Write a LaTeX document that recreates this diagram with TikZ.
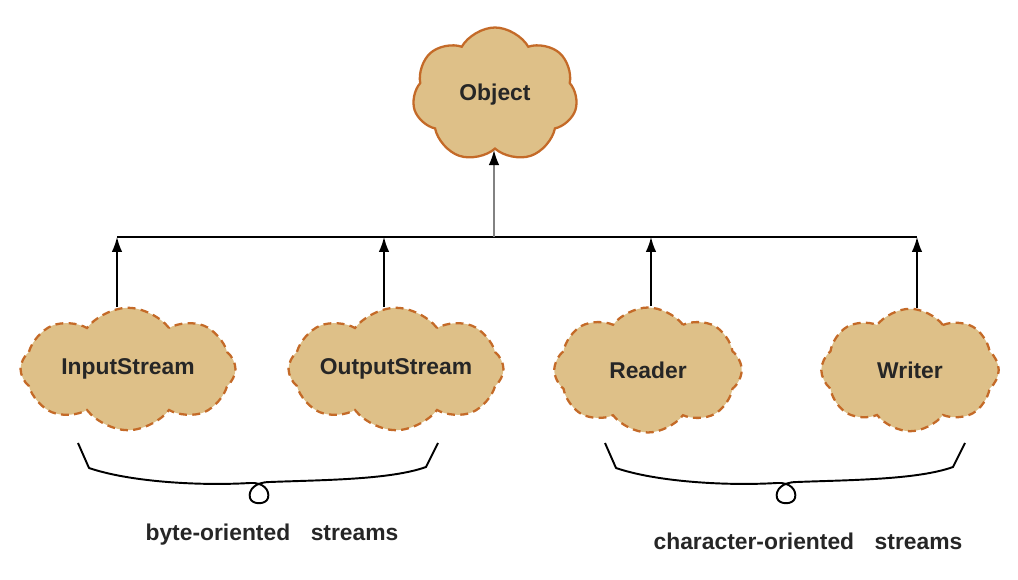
\documentclass[tikz,border=0pt]{standalone}
\usepackage{fontspec}
\setmainfont{Liberation Sans}
\usetikzlibrary{shapes.symbols,arrows.meta}
\definecolor{cloudfill}{RGB}{222,192,136}
\definecolor{cloudline}{RGB}{196,106,40}
\definecolor{arrgray}{RGB}{130,130,130}
\tikzset{
  x=0.02cm,y=-0.02cm,
  txt/.style={font=\fontsize{13}{15}\selectfont\bfseries, text=black!85},
  cl/.style={cloud, cloud ignores aspect, fill=cloudfill, draw=cloudline, line width=1.3pt, inner sep=0pt, txt},
  clsolid/.style={cl, cloud puffs=7, cloud puff arc=120},
  cldash/.style={cl, cloud puffs=8, cloud puff arc=105, dash pattern=on 4.5pt off 3pt},
  bus/.style={line width=1.1pt, black},
  arr/.style={line width=0.9pt, -{Latex[length=8.5pt,width=6pt]}},
  brace/.style={line width=1.1pt, black, line join=round},
}
\begin{document}
\begin{tikzpicture}
\useasboundingbox (0,0) rectangle (1018,580);
% clouds
\node[clsolid, minimum width=3.3cm, minimum height=2.7cm] (obj) at (495,95) {Object};
\node[cldash, minimum width=4.3cm, minimum height=2.45cm] (is) at (128,369) {InputStream};
\node[cldash, minimum width=4.3cm, minimum height=2.45cm] (os) at (396,369) {OutputStream};
\node[cldash, minimum width=3.75cm, minimum height=2.5cm] (rd) at (648,370) {Reader};
\node[cldash, minimum width=3.55cm, minimum height=2.45cm] (wr) at (910,370) {Writer};
% bus
\coordinate (b1) at (117,237);
\coordinate (b2) at (384,237);
\coordinate (b3) at (651,237);
\coordinate (b4) at (917,237);
\coordinate (bo) at (494,237);
\draw[bus] (b1) -- (b4);
\draw[arr] (is.north -| b1) -- (b1);
\draw[arr] (os.north -| b2) -- (b2);
\draw[arr] (rd.north -| b3) -- (b3);
\draw[arr] (wr.north -| b4) -- (b4);
\draw[arr, arrgray, -{Latex[length=8.5pt,width=6pt,fill=black,black]}] (bo) -- (obj.south -| bo);
% braces
\draw[brace] (78,443) -- (89,468) .. controls (130,482) and (200,486) .. (250,483)
  .. controls (263,482) and (270,490) .. (268,498) .. controls (266,505) and (252,505) .. (250,498)
  .. controls (248,490) and (255,482) .. (270,482)
  .. controls (320,480) and (390,480) .. (426,467) -- (438,443);
\begin{scope}[shift={(527,0)}]
\draw[brace] (78,443) -- (89,468) .. controls (130,482) and (200,486) .. (250,483)
  .. controls (263,482) and (270,490) .. (268,498) .. controls (266,505) and (252,505) .. (250,498)
  .. controls (248,490) and (255,482) .. (270,482)
  .. controls (320,480) and (390,480) .. (426,467) -- (438,443);
\end{scope}
% labels
\node[txt] (lb1) at (272,535) {byte-oriented\hspace{0.9em}streams};
\node[txt] (lb2) at (808,541) {character-oriented\hspace{0.9em}streams};
\end{tikzpicture}
\end{document}
